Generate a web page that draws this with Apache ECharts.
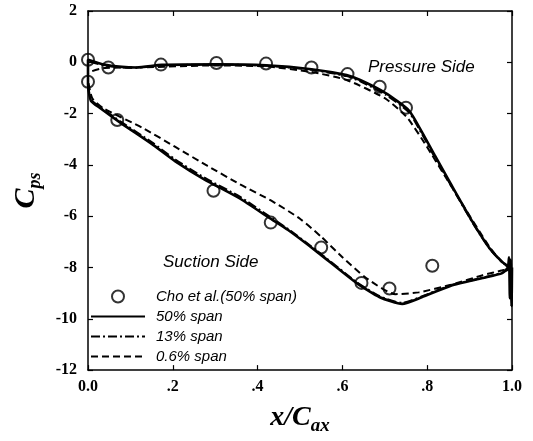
<!DOCTYPE html>
<html>
<head>
<meta charset="utf-8">
<script src="https://cdn.jsdelivr.net/npm/echarts@6/dist/echarts.min.js"></script>
<style>html,body{margin:0;padding:0;background:#fff}#c{width:533px;height:441px}</style>
</head>
<body>
<div id="c"></div>
<script>
// x/Cax ticks and Cps ticks
const xTicks = [0, 0.2, 0.4, 0.6, 0.8, 1.0];
const yTicks = [2, 0, -2, -4, -6, -8, -10, -12];

// Experiment: Cho et al. (50% span)
const choPressure = [[0.0,0.1],[0.048,-0.2],[0.172,-0.09],[0.303,-0.03],[0.42,-0.05],[0.527,-0.2],[0.612,-0.46],[0.688,-0.95],[0.75,-1.77]];
const choSuction = [[0.0,-0.76],[0.069,-2.25],[0.296,-5.01],[0.431,-6.25],[0.55,-7.22],[0.645,-8.6],[0.711,-8.82],[0.812,-7.93]];

// 50% span
const pressure50 = [[0.0,0.1],[0.037,-0.09],[0.08,-0.18],[0.115,-0.2],[0.174,-0.1],[0.305,-0.08],[0.42,-0.12],[0.527,-0.27],[0.61,-0.5],[0.642,-0.69],[0.702,-1.2],[0.757,-1.88],[0.787,-2.7],[0.817,-3.6],[0.856,-4.75],[0.908,-6.25],[0.947,-7.25],[0.977,-7.78],[0.998,-8.04]];
const suction50 = [[0.0,-0.85],[0.007,-1.5],[0.03,-1.8],[0.076,-2.35],[0.151,-3.19],[0.206,-3.86],[0.275,-4.57],[0.358,-5.31],[0.427,-6.06],[0.472,-6.54],[0.541,-7.4],[0.633,-8.6],[0.688,-9.16],[0.741,-9.42],[0.787,-9.16],[0.856,-8.71],[0.931,-8.41],[0.977,-8.22],[0.99,-8.0],[0.993,-7.6],[0.995,-9.2],[0.997,-7.7],[0.999,-9.5],[1.0,-8.0]];

// 13% span
const pressure13 = [[0.0,0.05],[0.037,-0.12],[0.08,-0.2],[0.115,-0.21],[0.174,-0.12],[0.305,-0.09],[0.42,-0.13],[0.527,-0.29],[0.61,-0.54],[0.642,-0.74],[0.702,-1.26],[0.757,-1.95],[0.787,-2.78],[0.817,-3.68],[0.856,-4.8],[0.908,-6.28],[0.947,-7.26],[0.977,-7.8],[0.998,-8.04]];
const suction13 = [[0.0,-0.85],[0.007,-1.45],[0.03,-1.76],[0.076,-2.3],[0.151,-3.12],[0.206,-3.79],[0.275,-4.5],[0.358,-5.24],[0.427,-6.0],[0.472,-6.5],[0.541,-7.36],[0.633,-8.56],[0.688,-9.12],[0.741,-9.38],[0.787,-9.13],[0.856,-8.69],[0.931,-8.4],[0.977,-8.2],[0.998,-8.02]];

// 0.6% span
const pressure06 = [[0.0,-0.43],[0.04,-0.22],[0.12,-0.2],[0.305,-0.12],[0.42,-0.16],[0.527,-0.38],[0.61,-0.69],[0.70,-1.4],[0.752,-2.14],[0.798,-3.26],[0.844,-4.49],[0.89,-5.72],[0.947,-7.2],[0.98,-7.85],[1.0,-8.05]];
const suction06 = [[0.0,-0.6],[0.01,-1.4],[0.037,-1.8],[0.128,-2.55],[0.206,-3.3],[0.282,-4.04],[0.358,-4.75],[0.436,-5.43],[0.5,-6.1],[0.55,-6.8],[0.6,-7.6],[0.656,-8.41],[0.725,-9.04],[0.78,-8.97],[0.856,-8.67],[0.931,-8.3],[0.977,-8.11],[1.0,-8.0]];

const loop = (p, s) => p.slice().reverse().concat(s);

const chart = echarts.init(document.getElementById('c'));
const tickFont = {fontFamily:'Liberation Serif', fontWeight:'bold', fontSize:16, color:'#000'};
const xFmt = v => (Math.abs(v) < 1e-9 ? '0.0' : (Math.abs(v-1) < 1e-9 ? '1.0' : ('.' + Math.round(v*10))));
const lineBase = {type:'line', symbol:'none', showSymbol:false, smooth:0.2, z:2};
const frameLine = {show:true, onZero:false, lineStyle:{color:'#000', width:1.5}};
const frameTick = {show:true, inside:true, length:5, lineStyle:{color:'#000', width:1.2}};

chart.setOption({
  animation:false,
  backgroundColor:'#fff',
  grid:{left:76, right:21, top:11, bottom:55},
  legend:{
    orient:'vertical', left:85, top:284, itemWidth:54, itemHeight:12, itemGap:5,
    textStyle:{fontFamily:'Liberation Sans', fontStyle:'italic', fontSize:15, color:'#000', padding:[0,0,0,6]},
    data:[
      {name:'Cho et al.(50% span)'},
      {name:'50% span', itemStyle:{opacity:0}},
      {name:'13% span', itemStyle:{opacity:0}},
      {name:'0.6% span', itemStyle:{opacity:0}}
    ]
  },
  xAxis:[{
    type:'value', min:0, max:1, interval:0.2,
    axisLine:frameLine, axisTick:frameTick,
    axisLabel:Object.assign({margin:9, formatter:xFmt}, tickFont),
    splitLine:{show:false},
    name:'{a|x/C}{b|ax}', nameLocation:'middle', nameGap:24,
    nameTextStyle:{rich:{
      a:{fontFamily:'Liberation Serif', fontWeight:'bold', fontStyle:'italic', fontSize:28, lineHeight:30, color:'#000'},
      b:{fontFamily:'Liberation Serif', fontWeight:'bold', fontStyle:'italic', fontSize:19, lineHeight:19, padding:[17,0,0,0], color:'#000'}
    }}
  },{
    type:'value', position:'top', min:0, max:1, interval:0.2,
    axisLine:frameLine, axisTick:frameTick,
    axisLabel:{show:false}, splitLine:{show:false}
  }],
  yAxis:[{
    type:'value', min:-12, max:2, interval:2,
    axisLine:frameLine, axisTick:frameTick,
    axisLabel:Object.assign({margin:11, formatter:v => String(v)}, tickFont),
    splitLine:{show:false},
    name:'{a|C}{b|ps}', nameLocation:'middle', nameGap:46, nameRotate:90,
    nameTextStyle:{rich:{
      a:{fontFamily:'Liberation Serif', fontWeight:'bold', fontStyle:'italic', fontSize:30, lineHeight:32, color:'#000'},
      b:{fontFamily:'Liberation Serif', fontWeight:'bold', fontStyle:'italic', fontSize:18, lineHeight:18, padding:[18,0,0,0], color:'#000'}
    }}
  },{
    type:'value', position:'right', min:-12, max:2, interval:2,
    axisLine:frameLine, axisTick:frameTick,
    axisLabel:{show:false}, splitLine:{show:false}
  }],
  graphic:[
    {type:'text', left:368, top:59, style:{text:'Pressure Side', fontFamily:'Liberation Sans', fontStyle:'italic', fontSize:17, fill:'#000'}},
    {type:'text', left:163, top:254, style:{text:'Suction Side', fontFamily:'Liberation Sans', fontStyle:'italic', fontSize:17, fill:'#000'}}
  ],
  series:[
    {name:'Cho et al.(50% span)', type:'scatter', symbol:'circle', symbolSize:12, z:5,
     itemStyle:{color:'rgba(255,255,255,0)', borderColor:'#000', borderWidth:2},
     data:choPressure.concat(choSuction)},
    Object.assign({}, lineBase, {name:'50% span', lineStyle:{color:'#000', width:2.6, type:'solid'}, itemStyle:{color:'#000'}, data:loop(pressure50, suction50)}),
    Object.assign({}, lineBase, {name:'13% span', lineStyle:{color:'#000', width:2, type:[9,3,2,3]}, itemStyle:{color:'#000'}, data:loop(pressure13, suction13)}),
    Object.assign({}, lineBase, {name:'0.6% span', lineStyle:{color:'#000', width:2, type:[7,4]}, itemStyle:{color:'#000'}, data:loop(pressure06, suction06)})
  ]
});
</script>
</body>
</html>
